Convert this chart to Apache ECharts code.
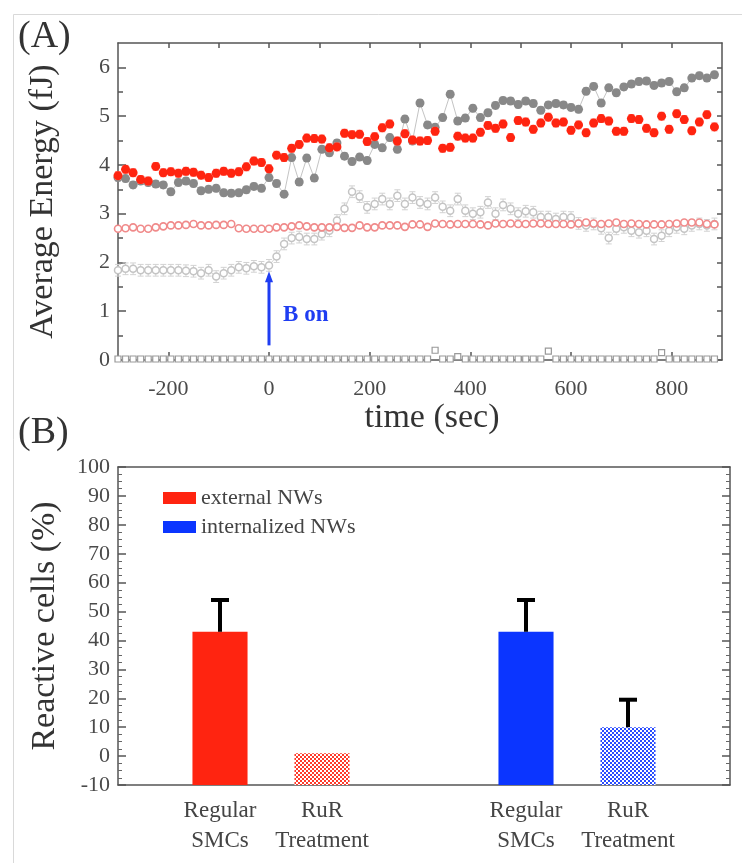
<!DOCTYPE html>
<html>
<head>
<meta charset="utf-8">
<title>Average Energy / Reactive cells</title>
<script src="https://cdn.jsdelivr.net/npm/echarts@6/dist/echarts.min.js"></script>
<style>
  html, body { margin: 0; padding: 0; background: #fff; }
  #container { width: 742px; height: 863px; }
</style>
</head>
<body>
<div id="container"></div>
<script>
// ---- panel (A) data: sample times (sec) and average energy (fJ) ----
var times = [-300, -285, -270, -255, -240, -225, -210, -195, -180, -165,
  -150, -135, -120, -105, -90, -75, -60, -45, -30, -15,
  0, 15, 30, 45, 60, 75, 90, 105, 120, 135,
  150, 165, 180, 195, 210, 225, 240, 255, 270, 285,
  300, 315, 330, 345, 360, 375, 390, 405, 420, 435,
  450, 465, 480, 495, 510, 525, 540, 555, 570, 585,
  600, 615, 630, 645, 660, 675, 690, 705, 720, 735,
  750, 765, 780, 795, 810, 825, 840, 855, 870, 885];

var redFilled = [3.78, 3.91, 3.84, 3.70, 3.67, 3.97, 3.84, 3.86, 3.83, 3.87,
  3.85, 3.79, 3.74, 3.83, 3.87, 3.83, 3.86, 3.96, 4.08, 4.05,
  3.92, 4.20, 4.15, 4.34, 4.42, 4.55, 4.54, 4.53, 4.35, 4.37,
  4.65, 4.62, 4.63, 4.48, 4.58, 4.76, 4.84, 4.49, 4.64, 4.51,
  4.49, 4.50, 4.69, 4.34, 4.36, 4.59, 4.55, 4.55, 4.67, 4.81,
  4.75, 4.84, 4.56, 4.91, 4.88, 4.73, 4.86, 4.98, 4.86, 4.88,
  4.71, 4.82, 4.66, 4.86, 4.95, 4.90, 4.69, 4.69, 4.95, 4.93,
  4.75, 4.66, 5.00, 4.73, 5.05, 4.93, 4.70, 4.88, 5.03, 4.78];

var grayFilled = [3.74, 3.72, 3.59, 3.67, 3.64, 3.61, 3.59, 3.45, 3.64, 3.67,
  3.62, 3.47, 3.50, 3.52, 3.43, 3.42, 3.43, 3.49, 3.56, 3.52,
  3.74, 3.62, 3.40, 4.15, 3.65, 4.14, 3.73, 4.32, 4.25, 4.45,
  4.18, 4.07, 4.16, 4.09, 4.42, 4.35, 4.56, 4.32, 4.94, 4.49,
  5.27, 4.82, 4.77, 4.97, 5.45, 4.90, 4.96, 5.16, 4.97, 5.07,
  5.22, 5.32, 5.31, 5.24, 5.31, 5.26, 5.12, 5.23, 5.26, 5.23,
  5.18, 5.14, 5.51, 5.61, 5.27, 5.58, 5.48, 5.60, 5.66, 5.71,
  5.72, 5.63, 5.68, 5.71, 5.50, 5.58, 5.78, 5.83, 5.78, 5.85];

var redOpen = [2.69, 2.70, 2.72, 2.69, 2.69, 2.72, 2.74, 2.76, 2.76, 2.77,
  2.79, 2.76, 2.76, 2.77, 2.77, 2.79, 2.70, 2.69, 2.69, 2.69,
  2.69, 2.72, 2.72, 2.74, 2.76, 2.74, 2.72, 2.72, 2.72, 2.73,
  2.71, 2.71, 2.76, 2.72, 2.72, 2.76, 2.76, 2.76, 2.73, 2.78,
  2.78, 2.73, 2.80, 2.79, 2.78, 2.79, 2.79, 2.79, 2.78, 2.76,
  2.80, 2.79, 2.80, 2.79, 2.79, 2.80, 2.80, 2.79, 2.79, 2.79,
  2.78, 2.80, 2.82, 2.80, 2.79, 2.80, 2.82, 2.79, 2.80, 2.79,
  2.78, 2.78, 2.78, 2.79, 2.80, 2.82, 2.82, 2.82, 2.79, 2.78];

var grayOpen = [1.84, 1.87, 1.87, 1.84, 1.84, 1.84, 1.84, 1.84, 1.84, 1.83,
  1.82, 1.78, 1.84, 1.71, 1.78, 1.84, 1.90, 1.88, 1.92, 1.90,
  1.94, 2.12, 2.38, 2.50, 2.52, 2.48, 2.48, 2.58, 2.65, 2.86,
  3.10, 3.45, 3.35, 3.13, 3.20, 3.30, 3.20, 3.37, 3.20, 3.33,
  3.23, 3.20, 3.33, 3.14, 3.06, 3.30, 3.06, 3.00, 3.03, 3.23,
  3.00, 3.18, 3.10, 3.00, 3.05, 3.03, 2.93, 2.93, 2.89, 2.93,
  2.92, 2.80, 2.76, 2.79, 2.70, 2.50, 2.69, 2.72, 2.65, 2.62,
  2.65, 2.48, 2.55, 2.65, 2.72, 2.69, 2.76, 2.79, 2.76, 2.79];

var baseSquares = [0.02, 0.02, 0.02, 0.02, 0.02, 0.02, 0.02, 0.02, 0.02, 0.02,
  0.02, 0.02, 0.02, 0.02, 0.02, 0.02, 0.02, 0.02, 0.02, 0.02,
  0.02, 0.02, 0.02, 0.02, 0.02, 0.02, 0.02, 0.02, 0.02, 0.02,
  0.02, 0.02, 0.02, 0.02, 0.02, 0.02, 0.02, 0.02, 0.02, 0.02,
  0.02, 0.02, 0.20, 0.02, 0.02, 0.07, 0.02, 0.02, 0.02, 0.02,
  0.02, 0.02, 0.02, 0.02, 0.02, 0.02, 0.02, 0.18, 0.02, 0.02,
  0.02, 0.02, 0.02, 0.02, 0.02, 0.02, 0.02, 0.02, 0.02, 0.02,
  0.02, 0.02, 0.15, 0.02, 0.02, 0.02, 0.02, 0.02, 0.02, 0.02];

// error half-widths (fJ) per series: red filled, gray filled, red open, gray open
var errA = [0.08, 0.07, 0.04, 0.12];

var timeTicks = [-200, 0, 200, 400, 600, 800];
var timeMinor = [-100, 100, 300, 500, 700];
var energyTicks = [0, 1, 2, 3, 4, 5, 6];
var energyMinor = [0.5, 1.5, 2.5, 3.5, 4.5, 5.5];
var bOnArrow = [[0, 0.3], [0, 1.82]];
var bOnLabel = [18, 0.92];

// ---- panel (B) data ----
var barPos = [1, 2, 4, 5];
var barLabels = ['Regular\nSMCs', 'RuR\nTreatment', 'Regular\nSMCs', 'RuR\nTreatment'];
var externalNW = [43, 1];
var externalErr = [54, null];
var internalNW = [43, 10];
var internalErr = [54, 19.5];

var SERIF = '"Liberation Serif", "DejaVu Serif", serif';
var RED = '#ff2410';
var BLUE = '#0b35ff';
var ARROW = '#1f3df2';

function checker(color) {
    var c = document.createElement('canvas');
    c.width = 4; c.height = 4;
    var g = c.getContext('2d');
    g.fillStyle = '#ffffff';
    g.fillRect(0, 0, 4, 4);
    g.fillStyle = color;
    g.fillRect(0, 0, 2, 2);
    g.fillRect(2, 2, 2, 2);
    return c;
}

function pairs(vals) {
    return times.map(function (t, i) { return [t, vals[i]]; });
}

function errBars(vals, err, color, z) {
    return {
        type: 'custom', xAxisIndex: 0, yAxisIndex: 0, z: z, silent: true,
        data: times.map(function (t, i) { return [t, vals[i] - err, vals[i] + err]; }),
        encode: { x: 0, y: [1, 2] },
        renderItem: function (params, api) {
            var lo = api.coord([api.value(0), api.value(1)]);
            var hi = api.coord([api.value(0), api.value(2)]);
            var st = { stroke: color, lineWidth: 1 };
            return { type: 'group', children: [
                { type: 'line', shape: { x1: lo[0], y1: lo[1], x2: hi[0], y2: hi[1] }, style: st },
                { type: 'line', shape: { x1: lo[0] - 3, y1: lo[1], x2: lo[0] + 3, y2: lo[1] }, style: st },
                { type: 'line', shape: { x1: hi[0] - 3, y1: hi[1], x2: hi[0] + 3, y2: hi[1] }, style: st }
            ] };
        }
    };
}

// vertical "B on" arrow, placed through the data axes
function arrowSeries() {
    return {
        type: 'custom', xAxisIndex: 0, yAxisIndex: 0, z: 7, silent: true,
        data: [[bOnArrow[0][0], bOnArrow[0][1], bOnArrow[1][1]]],
        encode: { x: 0, y: [1, 2] },
        renderItem: function (params, api) {
            var lo = api.coord([api.value(0), api.value(1)]);
            var hi = api.coord([api.value(0), api.value(2)]);
            return { type: 'group', children: [
                { type: 'line', shape: { x1: lo[0], y1: lo[1], x2: hi[0], y2: hi[1] + 8 },
                  style: { stroke: ARROW, lineWidth: 3 } },
                { type: 'polygon', shape: { points: [[hi[0], hi[1]], [hi[0] - 4, hi[1] + 11], [hi[0] + 4, hi[1] + 11]] },
                  style: { fill: ARROW } }
            ] };
        }
    };
}

function barSeries(name, vals, color, pattern, idxOffset) {
    return {
        name: name, type: 'custom', xAxisIndex: 3, yAxisIndex: 3, z: 3,
        itemStyle: { color: color },
        data: vals.map(function (v, i) { return [barPos[i + idxOffset], v]; }),
        renderItem: function (params, api) {
            var x = api.value(0);
            var top = api.coord([x, api.value(1)]);
            var base = api.coord([x, -10]);
            var w = api.size([0.54, 0])[0];
            var fill = params.dataIndex === 0 ? color : { image: checker(pattern), repeat: 'repeat' };
            return { type: 'rect', shape: { x: top[0] - w / 2, y: top[1], width: w, height: base[1] - top[1] },
                     style: { fill: fill } };
        }
    };
}

function barErr(vals, errs, idxOffset) {
    var d = [];
    vals.forEach(function (v, i) { if (errs[i] != null) d.push([barPos[i + idxOffset], v, errs[i]]); });
    return {
        type: 'custom', xAxisIndex: 3, yAxisIndex: 3, z: 4, silent: true,
        data: d,
        renderItem: function (params, api) {
            var lo = api.coord([api.value(0), api.value(1)]);
            var hi = api.coord([api.value(0), api.value(2)]);
            return { type: 'group', children: [
                { type: 'line', shape: { x1: lo[0], y1: lo[1], x2: hi[0], y2: hi[1] }, style: { stroke: '#000', lineWidth: 4 } },
                { type: 'line', shape: { x1: hi[0] - 9, y1: hi[1], x2: hi[0] + 9, y2: hi[1] }, style: { stroke: '#000', lineWidth: 4 } }
            ] };
        }
    };
}

var frame = { show: true, onZero: false, lineStyle: { color: '#555', width: 1.5 } };
var noLine = { show: false, onZero: false };
var tickLbl = { fontFamily: SERIF, fontSize: 22, color: '#4a4a4a' };
var nameSt = { fontFamily: SERIF, fontSize: 34, color: '#333' };

var chart = echarts.init(document.getElementById('container'));
chart.setOption({
    animation: false,
    backgroundColor: '#fff',
    grid: [
        { left: 118, top: 43, width: 604, height: 317 },
        { left: 118, top: 467, width: 612, height: 318 }
    ],
    legend: {
        data: ['external NWs', 'internalized NWs'],
        orient: 'vertical', left: 158, top: 482,
        itemWidth: 33, itemHeight: 12, itemGap: 7, icon: 'rect',
        textStyle: { fontFamily: SERIF, fontSize: 22, color: '#444', lineHeight: 22 }
    },
    xAxis: [
        { gridIndex: 0, type: 'value', position: 'bottom', min: -300, max: 900,
          axisLine: frame, splitLine: { show: false },
          axisTick: { inside: true, length: 8, customValues: timeTicks, lineStyle: { color: '#555', width: 1.5 } },
          axisLabel: Object.assign({ customValues: timeTicks, margin: 18 }, tickLbl),
          name: 'time (sec)', nameLocation: 'middle', nameGap: 36,
          nameTextStyle: Object.assign({ padding: [0, 0, 0, 24] }, nameSt) },
        { gridIndex: 0, type: 'value', position: 'bottom', min: -300, max: 900,
          axisLine: noLine, splitLine: { show: false }, axisLabel: { show: false },
          axisTick: { inside: true, length: 4, customValues: timeMinor, lineStyle: { color: '#555', width: 1.5 } } },
        { gridIndex: 0, type: 'value', position: 'top', min: -300, max: 900,
          axisLine: frame, splitLine: { show: false }, axisLabel: { show: false },
          axisTick: { inside: true, length: 5, customValues: timeTicks.concat(timeMinor), lineStyle: { color: '#555', width: 1.5 } } },
        { gridIndex: 1, type: 'value', position: 'bottom', min: 0, max: 6,
          axisLine: frame, splitLine: { show: false }, axisTick: { show: false },
          axisLabel: { customValues: barPos, margin: 11, fontFamily: SERIF, fontSize: 23, color: '#444', lineHeight: 30,
                       formatter: function (v) { return barLabels[barPos.indexOf(v)] || ''; } } },
        { gridIndex: 1, type: 'value', position: 'top', min: 0, max: 6,
          axisLine: frame, splitLine: { show: false }, axisTick: { show: false }, axisLabel: { show: false } }
    ],
    yAxis: [
        { gridIndex: 0, type: 'value', position: 'left', min: 0, max: 6.5,
          axisLine: frame, splitLine: { show: false },
          axisTick: { inside: true, length: 8, customValues: energyTicks, lineStyle: { color: '#555', width: 1.5 } },
          axisLabel: Object.assign({ customValues: energyTicks, margin: 8 }, tickLbl),
          name: 'Average Energy (fJ)', nameLocation: 'middle', nameGap: 58, nameTextStyle: nameSt },
        { gridIndex: 0, type: 'value', position: 'left', min: 0, max: 6.5,
          axisLine: noLine, splitLine: { show: false }, axisLabel: { show: false },
          axisTick: { inside: true, length: 5, customValues: energyMinor, lineStyle: { color: '#555', width: 1.5 } } },
        { gridIndex: 0, type: 'value', position: 'right', min: 0, max: 6.5,
          axisLine: frame, splitLine: { show: false }, axisLabel: { show: false },
          axisTick: { inside: true, length: 5, customValues: energyTicks.concat(energyMinor), lineStyle: { color: '#555', width: 1.5 } } },
        { gridIndex: 1, type: 'value', position: 'left', min: -10, max: 100, interval: 10,
          axisLine: frame, splitLine: { show: false },
          axisTick: { inside: true, length: 8, lineStyle: { color: '#555', width: 1.5 } },
          minorTick: { show: true, splitNumber: 4, length: 4, lineStyle: { color: '#666', width: 1 } },
          axisLabel: Object.assign({ margin: 8 }, tickLbl),
          name: 'Reactive cells (%)', nameLocation: 'middle', nameGap: 56, nameTextStyle: nameSt },
        { gridIndex: 1, type: 'value', position: 'right', min: -10, max: 100, interval: 10,
          axisLine: frame, splitLine: { show: false }, axisLabel: { show: false },
          axisTick: { inside: true, length: 8, lineStyle: { color: '#555', width: 1.5 } },
          minorTick: { show: true, splitNumber: 4, length: 4, lineStyle: { color: '#666', width: 1 } } }
    ],
    series: [
        // baseline open squares + "B on" label
        { type: 'line', xAxisIndex: 0, yAxisIndex: 0, z: 2, data: pairs(baseSquares),
          symbol: 'rect', symbolSize: 6, lineStyle: { width: 0, opacity: 0 },
          itemStyle: { color: '#fff', borderColor: '#999', borderWidth: 1.2 },
          markPoint: { silent: true, symbol: 'circle', symbolSize: 0,
                       label: { show: true, position: 'right', formatter: 'B on', fontFamily: SERIF,
                                fontWeight: 'bold', fontSize: 23, color: ARROW },
                       data: [{ coord: bOnLabel }] } },
        errBars(grayOpen, errA[3], '#d2d2d2', 3),
        { type: 'line', xAxisIndex: 0, yAxisIndex: 0, z: 3, data: pairs(grayOpen),
          symbol: 'circle', symbolSize: 7, lineStyle: { color: '#d4d4d4', width: 1 },
          itemStyle: { color: '#fff', borderColor: '#c4c4c4', borderWidth: 1.5 } },
        errBars(redOpen, errA[2], '#f4a0a0', 4),
        { type: 'line', xAxisIndex: 0, yAxisIndex: 0, z: 4, data: pairs(redOpen),
          symbol: 'circle', symbolSize: 7, lineStyle: { width: 0, opacity: 0 },
          itemStyle: { color: '#fff', borderColor: '#f08a8a', borderWidth: 1.6 } },
        errBars(grayFilled, errA[1], '#b4b4b4', 5),
        { type: 'line', xAxisIndex: 0, yAxisIndex: 0, z: 5, data: pairs(grayFilled),
          symbol: 'circle', symbolSize: 9, lineStyle: { color: '#c4c4c4', width: 1 },
          itemStyle: { color: '#888888' } },
        errBars(redFilled, errA[0], '#ff7a70', 6),
        { type: 'line', xAxisIndex: 0, yAxisIndex: 0, z: 6, data: pairs(redFilled),
          symbol: 'circle', symbolSize: 9, lineStyle: { width: 0, opacity: 0 },
          itemStyle: { color: RED } },
        arrowSeries(),
        // panel B
        barSeries('external NWs', externalNW, RED, '#ff3a2a', 0),
        barSeries('internalized NWs', internalNW, BLUE, '#2a4cff', 2),
        barErr(externalNW, externalErr, 0),
        barErr(internalNW, internalErr, 2)
    ],
    graphic: [
        { type: 'rect', left: 11, top: 12, shape: { width: 740, height: 860 },
          style: { fill: 'none', stroke: '#d9d9d9', lineWidth: 1 }, silent: true },
        { type: 'text', left: 18, top: 18, style: { text: '(A)', font: '38px ' + SERIF, fill: '#333' } },
        { type: 'text', left: 18, top: 414, style: { text: '(B)', font: '38px ' + SERIF, fill: '#333' } }
    ]
});
</script>
</body>
</html>
